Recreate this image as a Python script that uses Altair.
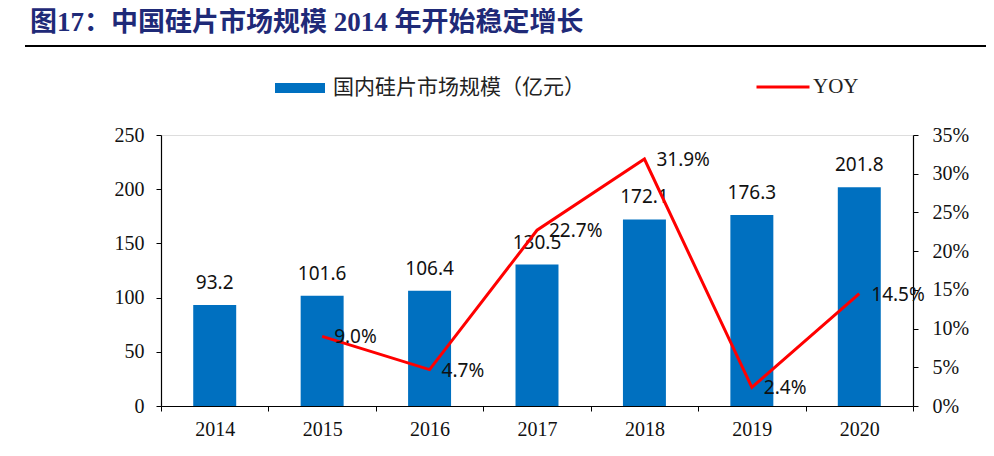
import altair as alt
import pandas as pd

years = ["2014", "2015", "2016", "2017", "2018", "2019", "2020"]
market = [93.2, 101.6, 106.4, 130.5, 172.1, 176.3, 201.8]
yoy = [None, 0.090, 0.047, 0.227, 0.319, 0.024, 0.145]

bar_name = "国内硅片市场规模（亿元）"
line_name = "YOY"
title_text = "图17：中国硅片市场规模 2014 年开始稳定增长"

left_ticks = [0, 50, 100, 150, 200, 250]
right_ticks = [0, 0.05, 0.10, 0.15, 0.20, 0.25, 0.30, 0.35]

df = pd.DataFrame({"year": years, "market": market, "yoy": yoy})
df_line = df.dropna(subset=["yoy"])

BLUE = "#0070C0"
RED = "#FF0000"
SERIF = "Liberation Serif, Noto Sans CJK SC"
SANS = "Noto Sans, Liberation Sans"

left_scale = alt.Scale(domain=[0, 250], nice=False, zero=True)
right_scale = alt.Scale(domain=[0, 0.35], nice=False, zero=True)

left_axis = alt.Axis(orient="left", values=left_ticks, grid=False, title=None,
                     tickSize=5, labelPadding=12, labelFont=SERIF, labelFontSize=20,
                     labelColor="#111", domainColor="#000", tickColor="#000",
                     domainWidth=1.2, labelOverlap=False)
right_axis = alt.Axis(orient="right", format=".0%", values=right_ticks, grid=False, title=None,
                      tickSize=5, labelPadding=14, labelFont=SERIF, labelFontSize=20,
                      labelColor="#111", domainColor="#000", tickColor="#000",
                      domainWidth=1.2, labelOverlap=False, tickCount=8)
x_axis = alt.Axis(labelAngle=0, tickBand="extent", tickSize=5, labelPadding=8, title=None,
                  labelFont=SERIF, labelFontSize=20, labelColor="#111",
                  domainColor="#000", tickColor="#000", domainWidth=1.2)
x_scale = alt.Scale(paddingInner=0, paddingOuter=0)

def X():
    return alt.X("year:N", title=None, sort=years, scale=x_scale, axis=x_axis)

bars = alt.Chart(df).mark_bar(width=alt.RelativeBandSize(0.4)).encode(
    x=X(),
    y=alt.Y("market:Q", title=None, scale=left_scale, axis=left_axis),
    color=alt.Color("s:N", scale=alt.Scale(domain=[bar_name], range=[BLUE]),
                    legend=alt.Legend(title=None, orient="none", legendX=114, legendY=-72,
                                      symbolType="M-1,-0.2L1,-0.2L1,0.2L-1,0.2Z",
                                      symbolSize=2500, symbolStrokeWidth=0,
                                      labelFont=SERIF, labelFontSize=21, labelColor="#222",
                                      labelOffset=8, labelLimit=0, padding=0)),
).transform_calculate(s=f"'{bar_name}'")

bar_text = alt.Chart(df).mark_text(baseline="middle", dy=-22, font=SANS, fontSize=19,
                                   color="#111").encode(
    x=X(),
    y=alt.Y("market:Q", title=None, scale=left_scale, axis=left_axis),
    text=alt.Text("market:Q", format=".1f"),
)

line = alt.Chart(df_line).mark_line(strokeWidth=3).encode(
    x=X(),
    y=alt.Y("yoy:Q", title=None, scale=right_scale, axis=right_axis),
    stroke=alt.Stroke("s:N", scale=alt.Scale(domain=[line_name], range=[RED]),
                      legend=alt.Legend(title=None, orient="none", legendX=594, legendY=-76,
                                        symbolType="stroke", symbolSize=2809,
                                        symbolStrokeWidth=3,
                                        labelFont=SERIF, labelFontSize=21, labelColor="#222",
                                        labelOffset=2, labelLimit=0, padding=0)),
).transform_calculate(s=f"'{line_name}'")

line_text = alt.Chart(df_line).mark_text(align="left", baseline="middle", dx=12, dy=1,
                                         font=SANS, fontSize=19, color="#111").encode(
    x=X(),
    y=alt.Y("yoy:Q", title=None, scale=right_scale, axis=right_axis),
    text=alt.Text("yoy:Q", format=".1%"),
)

title = alt.Chart(pd.DataFrame({"t": [title_text]})).mark_text(
    align="left", baseline="middle", font=SERIF, fontSize=27, fontWeight="bold",
    color="#1F2A78").encode(
    x=alt.value(-131), y=alt.value(-112), text="t:N")

underline = alt.Chart(pd.DataFrame({"t": [0]})).mark_rule(color="#000", strokeWidth=2).encode(
    x=alt.value(-136), x2=alt.value(830), y=alt.value(-89))

left = alt.layer(bars, bar_text)
right = alt.layer(line, line_text)

chart = alt.layer(left, right, title, underline).resolve_scale(
    y="independent", color="independent"
).properties(
    width=752, height=271,
    padding={"left": 153, "top": 127, "right": 73, "bottom": 42},
    autosize=alt.AutoSizeParams(type="none"),
).configure_view(stroke=None).configure(background="white")

chart.save("out.html", embed_options={"renderer": "svg", "actions": False})
